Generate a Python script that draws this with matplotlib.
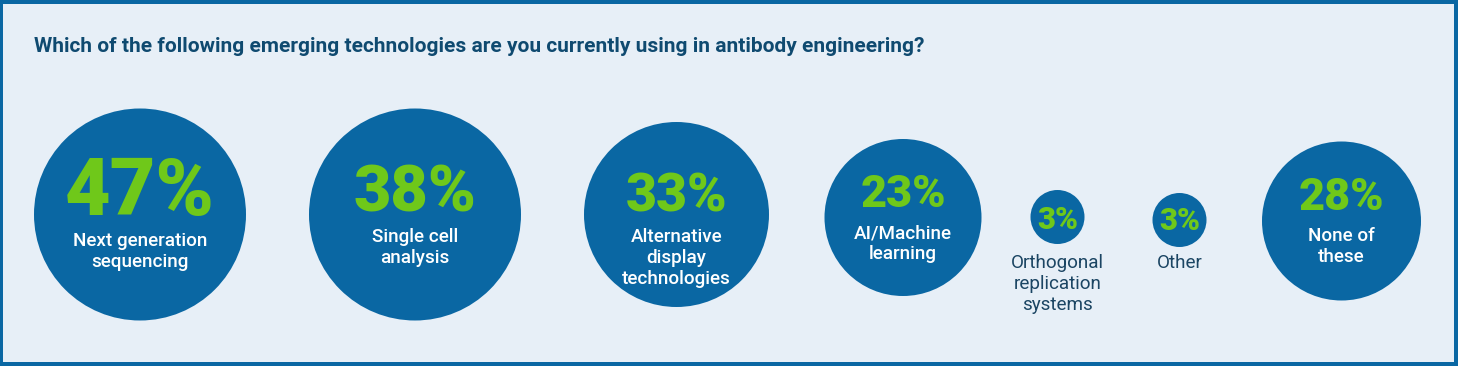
import matplotlib.pyplot as plt
from matplotlib.patches import Circle, Rectangle

# survey data
categories = ["Next generation\nsequencing", "Single cell\nanalysis",
              "Alternative\ndisplay\ntechnologies", "AI/Machine\nlearning",
              "Orthogonal\nreplication\nsystems", "Other", "None of\nthese"]
values = [47, 38, 33, 23, 3, 3, 28]
title = "Which of the following emerging technologies are you currently using in antibody engineering?"

# layout (pixels)
centers_x = [140, 415, 676.5, 903, 1057.5, 1179.5, 1341.5]
centers_y = [214.5, 214.5, 214.5, 217.5, 217, 220, 221]
radii = [106, 106, 92.5, 78.5, 27, 27, 79.5]
pct_base = [215, 211, 211, 207, 229, 230, 210]
pct_size = [56, 46, 38, 32, 22, 22, 32]
label_inside = [True, True, True, True, False, False, True]

blue = "#0a67a3"
green = "#6fc81a"
bg = "#e7eff7"
navy = "#0f4a70"

W, H = 1458, 366
fig = plt.figure(figsize=(W / 100, H / 100), dpi=100)
ax = fig.add_axes([0, 0, 1, 1])
ax.set_xlim(0, W)
ax.set_ylim(H, 0)
ax.axis("off")

# background + border
ax.add_patch(Rectangle((0, 0), W, H, facecolor=blue, edgecolor="none"))
ax.add_patch(Rectangle((3.5, 3.5), W - 7.5, H - 7.5, facecolor=bg, edgecolor="none"))

ax.text(34, 52, title, fontsize=15, fontweight="bold", color=navy,
        family="Roboto", va="baseline", ha="left")

px = 72 / 100  # pixel -> point

for i, (cat, val) in enumerate(zip(categories, values)):
    cx, cy, r = centers_x[i], centers_y[i], radii[i]
    ax.add_patch(Circle((cx, cy), r, facecolor=blue, edgecolor="none"))
    ax.text(cx, pct_base[i], f"{val}%", fontsize=pct_size[i] / 0.71 * px,
            fontweight="black", family="Roboto", color=green,
            ha="center", va="baseline")
    lines = cat.split("\n")
    if label_inside[i]:
        y0 = pct_base[i] + 31
        col = "white"
        wt = "medium"
    else:
        y0 = 268
        col = "#1b4563"
        wt = "normal"
    for j, ln in enumerate(lines):
        ax.text(cx, y0 + j * 21, ln, fontsize=13.4 / 0.71 * px, fontweight=wt,
                family="Roboto", color=col, ha="center", va="baseline")

fig.savefig("out.png", dpi=100)
